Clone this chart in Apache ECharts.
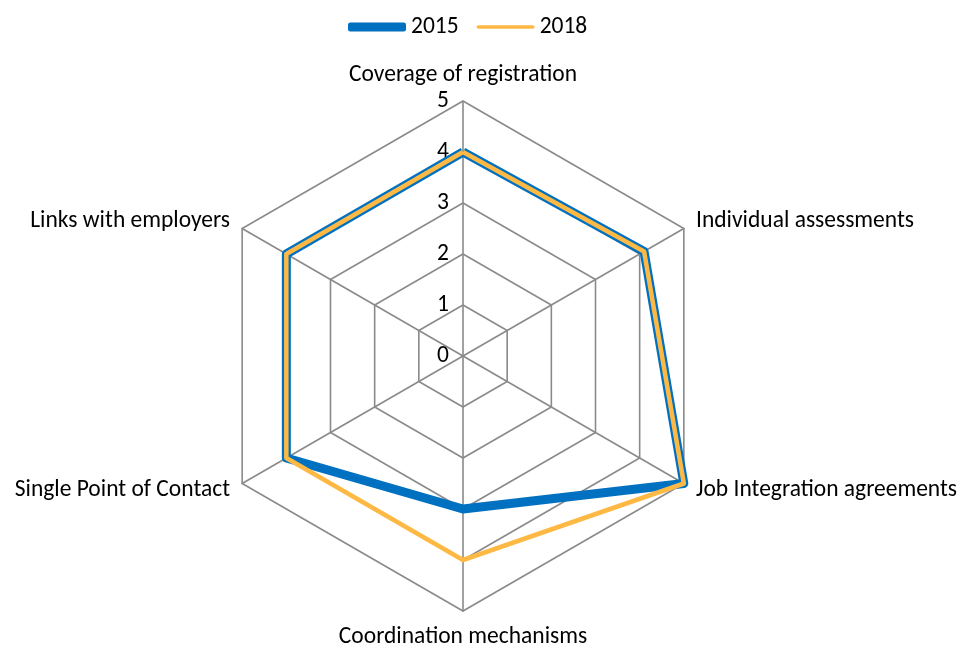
<!DOCTYPE html>
<html>
<head>
<meta charset="utf-8">
<script src="https://cdn.jsdelivr.net/npm/echarts@6/dist/echarts.min.js"></script>
<style>
  html, body { margin: 0; padding: 0; background: #fff; }
  #chart { width: 967px; height: 648px; }
</style>
</head>
<body>
<div id="chart"></div>
<script>
// Indicators in clockwise order, starting at the top
const categories = [
  'Coverage of registration',
  'Individual assessments',
  'Job Integration agreements',
  'Coordination mechanisms',
  'Single Point of Contact',
  'Links with employers'
];
const values2015 = [4, 4.1, 5, 3, 4, 4];
const values2018 = [4, 4.1, 5, 4, 4, 4];
const seriesNames = ['2015', '2018'];
const scaleMax = 5;

// ECharts lays indicators out counter-clockwise; keep the first one on top
// and reverse the rest so they run clockwise.
function clockwise(arr) {
  return [arr[0]].concat(arr.slice(1).reverse());
}

const FONT = 'Carlito, Lato, "Liberation Sans", sans-serif';
const FONT_SIZE = 23.5;

const indicators = clockwise(categories).map(function (name, i) {
  const ind = { name: name, max: scaleMax, min: 0 };
  if (i === 0) {
    ind.axisLabel = {
      show: true,
      color: '#000',
      fontSize: FONT_SIZE,
      fontFamily: FONT,
      margin: 14
    };
  }
  return ind;
});

const chart = echarts.init(document.getElementById('chart'), null, { renderer: 'canvas' });
chart.setOption({
  backgroundColor: '#fff',
  animation: false,
  legend: {
    top: 10,
    left: 343,
    itemWidth: 58,
    itemHeight: 9,
    itemGap: 18,
    textStyle: { color: '#000', fontSize: FONT_SIZE, fontFamily: FONT },
    data: [
      { name: seriesNames[0], icon: 'roundRect' },
      { name: seriesNames[1], icon: 'path://M0,0M0,8M0,2h60a2,2 0 0 1 0,4h-60a2,2 0 0 1 0,-4z' }
    ]
  },
  radar: {
    center: [463, 356],
    radius: 255,
    startAngle: 90,
    shape: 'polygon',
    splitNumber: 5,
    nameGap: 14,
    axisName: { color: '#000', fontSize: FONT_SIZE, fontFamily: FONT },
    axisLine: { lineStyle: { color: '#8a8a8a', width: 1.6 } },
    splitLine: { lineStyle: { color: '#8a8a8a', width: 1.6 } },
    splitArea: { show: false },
    axisLabel: { show: false },
    indicator: indicators
  },
  series: [{
    type: 'radar',
    symbol: 'none',
    data: [
      {
        name: seriesNames[0],
        value: clockwise(values2015),
        lineStyle: { color: '#0070C0', width: 9, join: 'round' },
        itemStyle: { color: '#0070C0' }
      },
      {
        name: seriesNames[1],
        value: clockwise(values2018),
        lineStyle: { color: '#FDB944', width: 4.5, join: 'round' },
        itemStyle: { color: '#FDB944' }
      }
    ]
  }]
});
</script>
</body>
</html>
